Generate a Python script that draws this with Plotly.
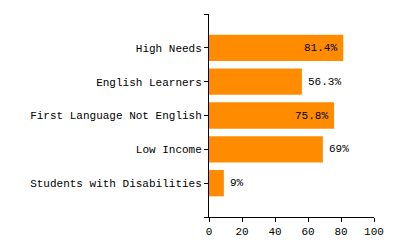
import plotly.graph_objects as go

categories = ["High Needs", "English Learners", "First Language Not English", "Low Income", "Students with Disabilities"]
values = [81.4, 56.3, 75.8, 69, 9]
labels = ["81.4%", "56.3%", "75.8%", "69%", "9%"]
x_ticks = [0, 20, 40, 60, 80, 100]

positions = list(range(len(categories)))
FONT = "Liberation Mono"

fig = go.Figure(go.Bar(
    x=values, y=positions, orientation="h",
    marker=dict(color="#FF8C00", line=dict(width=0)),
    width=0.78,
    hoverinfo="skip",
))

for p, v, t in zip(positions, values, labels):
    inside = v >= 75
    fig.add_annotation(
        x=v, y=p, xref="x", yref="y", text=t, showarrow=False,
        xanchor="right" if inside else "left", yanchor="middle",
        xshift=-4 if inside else 4,
        font=dict(family=FONT, size=11, color="black"),
    )

fig.update_layout(
    width=400, height=250,
    margin=dict(l=209, r=26, t=14, b=29),
    paper_bgcolor="white", plot_bgcolor="white",
    font=dict(family=FONT, size=11, color="black"),
    showlegend=False,
    xaxis=dict(range=[0, 100], tickvals=x_ticks, showline=True, linecolor="black",
               linewidth=1, ticks="outside", ticklen=4, tickcolor="black",
               showgrid=False, zeroline=False, fixedrange=True),
    yaxis=dict(range=[len(categories), -1], tickvals=[-1] + positions + [len(categories)],
               ticktext=[""] + categories + [""], showline=True, linecolor="black",
               linewidth=1, ticks="outside", ticklen=4, tickcolor="black",
               showgrid=False, zeroline=False, fixedrange=True),
)

fig.write_html("out.html")
